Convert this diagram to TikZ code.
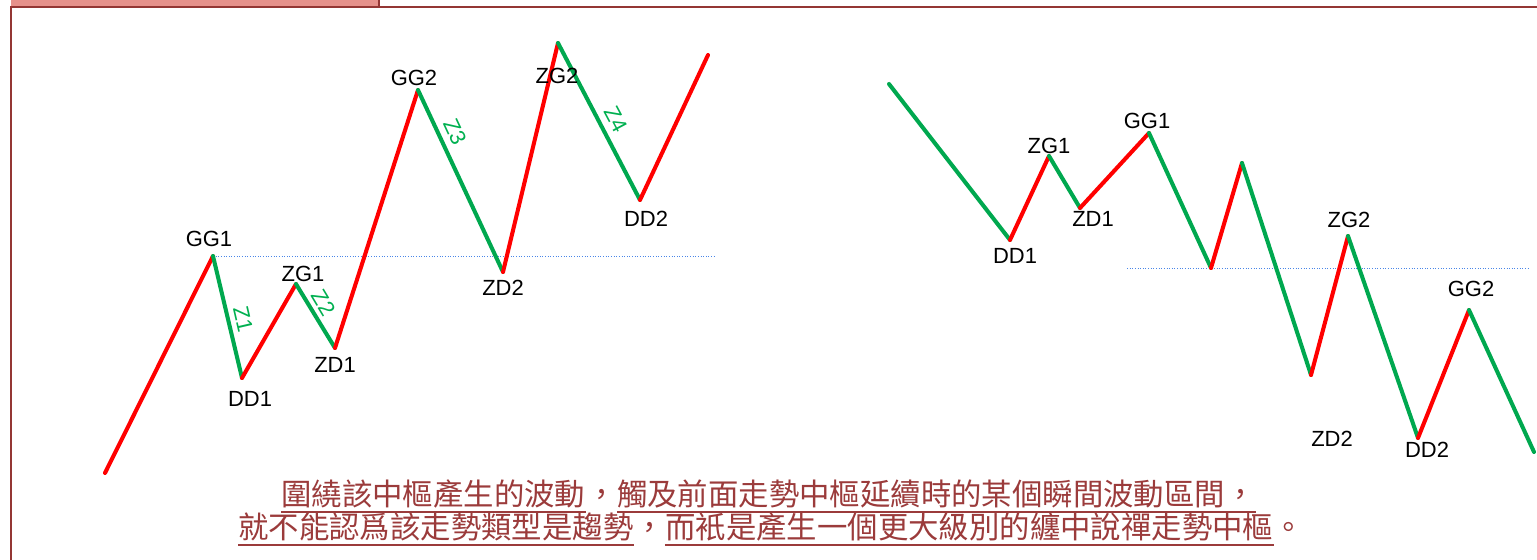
\documentclass[tikz,border=0pt]{standalone}
\usepackage{fontspec}
\setmainfont{Liberation Sans}
\newfontfamily\cjk{Noto Sans CJK TC}
\usetikzlibrary{calc, positioning}

\definecolor{frameRed}{HTML}{943634}
\definecolor{tabPink}{HTML}{E6918B}
\definecolor{noteRed}{HTML}{9B3B3B}
\definecolor{upRed}{HTML}{FF0000}
\definecolor{dnGreen}{HTML}{00A84F}
\definecolor{zGreen}{HTML}{00B050}
\definecolor{hubBlue}{HTML}{4A86E8}

\tikzset{
  upseg/.style={upRed, line width=2.3pt, line cap=round},
  dnseg/.style={dnGreen, line width=2.3pt, line cap=round},
  hubline/.style={hubBlue, densely dotted, line width=0.5pt},
  lbl/.style={font=\fontsize{12.5}{14}\selectfont, inner sep=0pt},
  zlbl/.style={zGreen, font=\fontsize{12.5}{14}\selectfont, inner sep=0pt},
  note/.style={noteRed, font=\cjk\fontsize{17.3}{20}\selectfont, inner sep=0pt, anchor=base west},
}

\begin{document}
\begin{tikzpicture}[x=0.02cm, y=-0.02cm]
  \useasboundingbox (0,0) rectangle (1537,560);

  % frame
  \fill[tabPink] (11,0) rectangle (378,6);
  \draw[frameRed, line width=1.3pt] (11,560) -- (11,7) -- (1537,7);
  \draw[frameRed, line width=1.3pt] (379,0) -- (379,7);

  % left chart
  \coordinate (a0) at (105,473);
  \coordinate (GGa) at (213,256);
  \coordinate (DDa) at (242,378);
  \coordinate (ZGa) at (296,284);
  \coordinate (ZDa) at (335,348);
  \coordinate (GGb) at (418,90);
  \coordinate (ZDb) at (503,272);
  \coordinate (ZGb) at (558,43);
  \coordinate (DDb) at (640,200);
  \coordinate (a9) at (708,55);
  \coordinate (hubL) at (715,256);

  \draw[hubline] (GGa) -- (hubL);
  \draw[upseg] (a0) -- (GGa);
  \draw[dnseg] (GGa) -- (DDa);
  \draw[upseg] (DDa) -- (ZGa);
  \draw[dnseg] (ZGa) -- (ZDa);
  \draw[upseg] (ZDa) -- (GGb);
  \draw[dnseg] (GGb) -- (ZDb);
  \draw[upseg] (ZDb) -- (ZGb);
  \draw[dnseg] (ZGb) -- (DDb);
  \draw[upseg] (DDb) -- (a9);

  \node[lbl] (tGGa) at (209,239) {GG1};
  \node[lbl] (tDDa) at (250,399) {DD1};
  \node[lbl] (tZGa) at (303,274) {ZG1};
  \node[lbl] (tZDa) at (335,365) {ZD1};
  \node[lbl] (tGGb) at (414,78) {GG2};
  \node[lbl] (tZDb) at (503,288) {ZD2};
  \node[lbl] (tZGb) at (557,76) {ZG2};
  \node[lbl] (tDDb) at (646,219) {DD2};
  \node[zlbl, rotate=-77] (z1) at (243,319) {Z1};
  \node[zlbl, rotate=-59] (z2) at (324,303) {Z2};
  \node[zlbl, rotate=-65] (z3) at (455,132) {Z3};
  \node[zlbl, rotate=-62] (z4) at (616,119) {Z4};

  % right chart
  \coordinate (b0) at (889,84);
  \coordinate (DDc) at (1010,240);
  \coordinate (ZGc) at (1049,156);
  \coordinate (ZDc) at (1080,208);
  \coordinate (GGc) at (1149,133);
  \coordinate (b5) at (1211,268);
  \coordinate (b6) at (1242,163);
  \coordinate (b7) at (1311,375);
  \coordinate (ZGd) at (1348,236);
  \coordinate (DDd) at (1418,438);
  \coordinate (GGd) at (1469,310);
  \coordinate (b11) at (1534,452);
  \coordinate (hubR0) at (1127,268);
  \coordinate (hubR1) at (1530,268);

  \draw[hubline] (hubR0) -- (hubR1);
  \draw[dnseg] (b0) -- (DDc);
  \draw[upseg] (DDc) -- (ZGc);
  \draw[dnseg] (ZGc) -- (ZDc);
  \draw[upseg] (ZDc) -- (GGc);
  \draw[dnseg] (GGc) -- (b5);
  \draw[upseg] (b5) -- (b6);
  \draw[dnseg] (b6) -- (b7);
  \draw[upseg] (b7) -- (ZGd);
  \draw[dnseg] (ZGd) -- (DDd);
  \draw[upseg] (DDd) -- (GGd);
  \draw[dnseg] (GGd) -- (b11);

  \node[lbl] (tDDc) at (1015,256) {DD1};
  \node[lbl] (tZGc) at (1049,146) {ZG1};
  \node[lbl] (tZDc) at (1093,219) {ZD1};
  \node[lbl] (tGGc) at (1147,121) {GG1};
  \node[lbl] (tZGd) at (1349,220) {ZG2};
  \node[lbl] (tGGd) at (1471,289) {GG2};
  \node[lbl] (tZDd) at (1332,439) {ZD2};
  \node[lbl] (tDDd) at (1427,450) {DD2};

  % note
  \node[note] (n1a) at (281,505) {圍繞該中樞產生的波動};
  \node[note, right=0pt of n1a.base east, anchor=base west] (n1b) {，};
  \node[note, right=0pt of n1b.base east, anchor=base west] (n1c) {觸及前面走勢中樞延續時的某個瞬間波動區間，};
  \node[note] (n2a) at (238,538) {就不能認爲該走勢類型是趨勢};
  \node[note, right=0pt of n2a.base east, anchor=base west] (n2b) {，};
  \node[note, right=0pt of n2b.base east, anchor=base west] (n2c) {而衹是產生一個更大級別的纏中說禪走勢中樞};
  \node[note, right=0pt of n2c.base east, anchor=base west] (n2d) {。};

  \draw[noteRed, line width=0.9pt] ($(n1a.base west)+(0,7)$) -- ($(n1a.base east)+(0,7)$);
  \draw[noteRed, line width=0.9pt] ($(n1c.base west)+(0,7)$) -- ($(n1c.base east)+(0,7)$);
  \draw[noteRed, line width=0.9pt] ($(n2a.base west)+(0,7)$) -- ($(n2a.base east)+(0,7)$);
  \draw[noteRed, line width=0.9pt] ($(n2c.base west)+(0,7)$) -- ($(n2c.base east)+(0,7)$);
\end{tikzpicture}
\end{document}
